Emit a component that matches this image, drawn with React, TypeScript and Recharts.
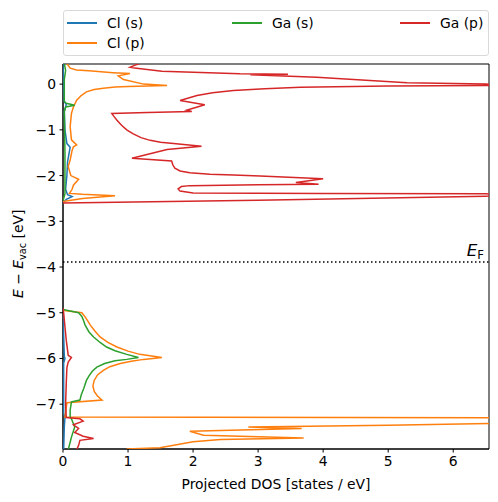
import { ScatterChart, Scatter, XAxis, YAxis, ReferenceLine, ReferenceArea } from 'recharts';

// [projected DOS, E - E_vac] pairs, ordered by the path
const clsUpper = [
  [0, -2.6], [0.05, -2.52], [0.14, -2.46], [0.07, -2.42], [0.04, -2.3], [0.06, -2.0], [0.07, -1.7],
  [0.11, -1.38], [0.06, -1.3], [0.03, -1.0], [0.02, -0.6], [0.05, -0.45], [0.02, -0.38], [0.01, 0], [0, 0.45],
];
const clsLower = [
  [0.01, -8.0], [0.02, -7.5], [0.03, -7.3], [0.01, -7.2], [0.01, -6.1], [0.03, -6.0], [0.02, -5.95],
  [0.01, -5.5], [0, -4.95],
];
const clpUpper = [
  [0, -2.57], [0.3, -2.5], [0.8, -2.44], [0.3, -2.41], [0.1, -2.39], [0.14, -2.3], [0.16, -2.21],
  [0.24, -2.08], [0.12, -2.0], [0.08, -1.8], [0.11, -1.66], [0.14, -1.45], [0.16, -1.37], [0.21, -1.33],
  [0.13, -1.22], [0.11, -0.93], [0.13, -0.64], [0.16, -0.5], [0.21, -0.35], [0.28, -0.25], [0.36, -0.17],
  [0.48, -0.12], [0.62, -0.09], [0.8, -0.065], [1.0, -0.05], [1.3, -0.04], [1.6, -0.03], [1.24, 0.0],
  [0.93, 0.1], [0.85, 0.18], [1.03, 0.23], [0.77, 0.25], [0.4, 0.29], [0.21, 0.31], [0.11, 0.35], [0.06, 0.45],
];
const clpLower = [
  [0.98, -7.98], [1.49, -7.95], [2.0, -7.82], [2.42, -7.77], [3.7, -7.74], [2.16, -7.68], [1.95, -7.59],
  [3.67, -7.53], [2.85, -7.5], [5.0, -7.46], [6.55, -7.42], [9.0, -7.35], [6.55, -7.295], [0.03, -7.28],
  [0.06, -6.97], [0.6, -6.91], [0.53, -6.82], [0.48, -6.72], [0.46, -6.6], [0.48, -6.48], [0.53, -6.36],
  [0.62, -6.26], [0.72, -6.18], [0.88, -6.11], [1.05, -6.06], [1.24, -6.02], [1.52, -5.98], [1.18, -5.91],
  [1.0, -5.84], [0.83, -5.75], [0.69, -5.65], [0.57, -5.53], [0.49, -5.4], [0.42, -5.27], [0.38, -5.18],
  [0.34, -5.09], [0.29, -5.0], [0.02, -4.95], [0, -4.93],
];
const gasUpper = [
  [0, -2.55], [0.03, -2.4], [0.03, -1.5], [0.02, -0.6], [0.04, -0.5], [0.18, -0.46], [0.05, -0.42],
  [0.02, -0.38], [0.02, 0.1], [0.04, 0.3], [0.02, 0.45],
];
const gasLower = [
  [0.08, -8.0], [0.13, -7.72], [0.18, -7.5], [0.13, -7.32], [0.11, -7.28], [0.11, -7.13], [0.13, -6.95],
  [0.26, -6.91], [0.28, -6.8], [0.32, -6.65], [0.36, -6.48], [0.4, -6.38], [0.45, -6.28], [0.52, -6.19],
  [0.64, -6.11], [0.8, -6.05], [0.98, -6.02], [1.16, -5.98], [0.98, -5.91], [0.8, -5.83], [0.67, -5.75],
  [0.57, -5.65], [0.47, -5.53], [0.4, -5.42], [0.34, -5.27], [0.31, -5.15], [0.29, -5.08], [0.24, -5.0],
  [0, -4.93],
];
const gapUpper = [
  [0, -2.6], [3.0, -2.54], [6.5, -2.45], [8.5, -2.42], [6.5, -2.4], [4.0, -2.39], [2.0, -2.38],
  [1.8, -2.34], [1.77, -2.29], [1.82, -2.24], [1.95, -2.22], [3.0, -2.2], [3.93, -2.19], [3.58, -2.15],
  [4.0, -2.07], [3.03, -2.01], [2.62, -1.99], [2.26, -1.97], [1.95, -1.94], [1.8, -1.9], [1.72, -1.84],
  [1.69, -1.77], [1.67, -1.68], [1.06, -1.62], [1.4, -1.5], [1.6, -1.43], [2.13, -1.36], [1.7, -1.3],
  [1.5, -1.27], [1.34, -1.23], [1.2, -1.17], [1.08, -1.09], [0.98, -1.0], [0.9, -0.9], [0.83, -0.79],
  [0.78, -0.7], [0.75, -0.64], [1.3, -0.62], [1.98, -0.6], [1.9, -0.57], [2.18, -0.45], [1.8, -0.36],
  [2.06, -0.25], [2.3, -0.19], [2.62, -0.14], [3.1, -0.1], [3.65, -0.07], [5.0, -0.04], [6.5, -0.03],
  [8.0, -0.015], [6.5, 0.0], [5.29, 0.03], [3.9, 0.15], [2.88, 0.205], [3.46, 0.215], [2.72, 0.225],
  [1.52, 0.28], [1.1, 0.35], [1.03, 0.37], [1.1, 0.41], [1.2, 0.46],
];
const gapLower = [
  [0.21, -8.0], [0.24, -7.9], [0.26, -7.79], [0.47, -7.75], [0.31, -7.7], [0.18, -7.62], [0.24, -7.53],
  [0.16, -7.45], [0.31, -7.37], [0.26, -7.32], [0.05, -7.29], [0.04, -7.0], [0.05, -6.55], [0.06, -6.2],
  [0.08, -6.08], [0.13, -5.98], [0.08, -5.93], [0.05, -5.6], [0.03, -5.3], [0.01, -5.0], [0, -4.9],
];

const fermiLevel = -3.89;
const xTicks = [0, 1, 2, 3, 4, 5, 6];
const yTicks = [-7, -6, -5, -4, -3, -2, -1, 0];

const series = [
  { name: 'Cl (s)', color: '#1f77b4', parts: [clsUpper, clsLower] },
  { name: 'Cl (p)', color: '#ff7f0e', parts: [clpUpper, clpLower] },
  { name: 'Ga (s)', color: '#2ca02c', parts: [gasUpper, gasLower] },
  { name: 'Ga (p)', color: '#d62728', parts: [gapUpper, gapLower] },
];

const FONT = 'DejaVu Sans, sans-serif';
const toPts = (arr: number[][]) => arr.map(([x, y]) => ({ x, y }));
const fmt = (v: number) => String(v).replace('-', '\u2212');

const LegendBox = () => {
  const item = (s: typeof series[number], left: number, top: number) => (
    <div key={s.name} style={{ position: 'absolute', left, top, display: 'flex', alignItems: 'center' }}>
      <div style={{ width: 30, height: 2, background: s.color, marginRight: 10 }} />
      <span>{s.name}</span>
    </div>
  );
  return (
    <div style={{
      position: 'absolute', left: 63, top: 10, width: 424, height: 44, border: '1px solid #d9d9d9', borderRadius: 3,
      background: '#fff', fontFamily: FONT, fontSize: 13.9, color: '#000', lineHeight: '16px',
    }}>
      {item(series[0], 3, 4)}
      {item(series[1], 3, 24)}
      {item(series[2], 168, 4)}
      {item(series[3], 336, 4)}
    </div>
  );
};

const EfLabel = (props: any) => {
  const vb = props.viewBox;
  return (
    <text x={vb.x + vb.width - 5} y={vb.y - 6} textAnchor="end" fontFamily={FONT} fontSize={16.7} fill="#000">
      <tspan fontStyle="italic">E</tspan>
      <tspan fontSize={11.7} dy={3}>F</tspan>
    </text>
  );
};

// rotated axis title, written from its bottom end upwards
const YLabel = () => {
  const cx = 23;
  const cy = 298;
  return (
    <text x={cx} y={cy} transform={`rotate(-90, ${cx}, ${cy})`} textAnchor="start"
      fontFamily={FONT} fontSize={13.9} fill="#000">
      <tspan fontStyle="italic">E</tspan>
      <tspan> {'\u2212'} </tspan>
      <tspan fontStyle="italic">E</tspan>
      <tspan fontSize={9.7} dy={3}>vac</tspan>
      <tspan dy={-3}> [eV]</tspan>
    </text>
  );
};

const XLabel = (props: any) => {
  const vb = props.viewBox;
  return (
    <text x={vb.x + vb.width / 2} y={489} textAnchor="middle" fontFamily={FONT} fontSize={13.9} fill="#000">
      Projected DOS [states / eV]
    </text>
  );
};

export default function App() {
  return (
    <div style={{ position: 'absolute', left: 0, top: 0, width: 498, height: 502, background: '#fff' }}>
      <ScatterChart width={498} height={502} margin={{ top: 64, right: 9, bottom: 23, left: 3 }}>
        <XAxis
          type="number" dataKey="x" domain={[0, 6.55]} ticks={xTicks} allowDataOverflow height={30}
          tick={{ fontSize: 13.9, fill: '#000', fontFamily: FONT }} tickSize={3.5} tickMargin={3.5}
          stroke="#000" tickFormatter={fmt} label={<XLabel />}
        />
        <YAxis
          type="number" dataKey="y" domain={[-7.98, 0.44]} ticks={yTicks} allowDataOverflow width={60}
          tick={{ fontSize: 13.9, fill: '#000', fontFamily: FONT }} tickSize={3.5} tickMargin={3.5}
          stroke="#000" tickFormatter={fmt} label={<YLabel />}
        />
        {series.flatMap((s) =>
          s.parts.map((p, i) => (
            <Scatter
              key={s.name + i}
              name={s.name}
              data={toPts(p)}
              fill={s.color}
              line={{ stroke: s.color, strokeWidth: 1.5 }}
              lineType="joint"
              shape={() => <g />}
              isAnimationActive={false}
            />
          ))
        )}
        <ReferenceLine y={fermiLevel} stroke="#000" strokeWidth={1.5} strokeDasharray="1.5 2.5" label={<EfLabel />} />
        <ReferenceArea x1={0} x2={6.55} y1={-7.98} y2={0.44} fill="none" stroke="#000" strokeWidth={1} fillOpacity={0} />
      </ScatterChart>
      <LegendBox />
    </div>
  );
}
